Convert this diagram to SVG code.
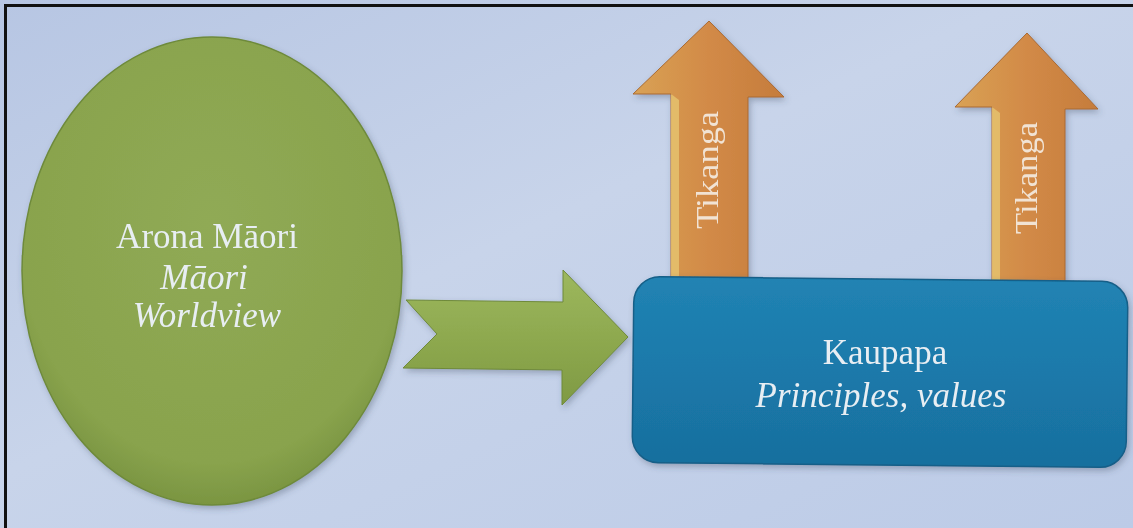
<svg xmlns="http://www.w3.org/2000/svg" width="1133" height="528" viewBox="0 0 1133 528">
  <defs>
    <linearGradient id="bg" x1="0" y1="0" x2="1" y2="1">
      <stop offset="0" stop-color="#b7c6e3"/>
      <stop offset="0.45" stop-color="#c8d4ea"/>
      <stop offset="1" stop-color="#bccbe7"/>
    </linearGradient>
    <radialGradient id="gEll" cx="0.5" cy="0.4" r="0.6">
      <stop offset="0" stop-color="#90aa55"/>
      <stop offset="0.85" stop-color="#89a34d"/>
      <stop offset="1" stop-color="#7a9541"/>
    </radialGradient>
    <linearGradient id="gArrow" x1="0" y1="0" x2="0" y2="1">
      <stop offset="0" stop-color="#9db85e"/>
      <stop offset="0.5" stop-color="#8ea94f"/>
      <stop offset="1" stop-color="#7f9a43"/>
    </linearGradient>
    <linearGradient id="oArrow" x1="0" y1="0" x2="1" y2="0">
      <stop offset="0" stop-color="#d9a255"/>
      <stop offset="0.5" stop-color="#d28a47"/>
      <stop offset="1" stop-color="#c57c3c"/>
    </linearGradient>
    <linearGradient id="bBox" x1="0" y1="0" x2="0" y2="1">
      <stop offset="0" stop-color="#2183b3"/>
      <stop offset="0.5" stop-color="#1b79aa"/>
      <stop offset="1" stop-color="#186f9e"/>
    </linearGradient>
    <filter id="sh" x="-10%" y="-10%" width="120%" height="120%">
      <feDropShadow dx="2" dy="3" stdDeviation="3" flood-color="#3a4a60" flood-opacity="0.35"/>
    </filter>
    <style>
      .lbl { font-family: "Liberation Serif", "Times New Roman", serif; fill: #e8eef3; font-size: 35px; text-anchor: middle; }
      .it { font-style: italic; }
      .tk { font-family: "Liberation Serif", "Times New Roman", serif; fill: #f1e3d4; font-size: 32px; text-anchor: middle; }
      .bevel { fill: #e6c470; opacity: 0.8; }
    </style>
  </defs>

  <rect x="0" y="0" width="1133" height="528" fill="url(#bg)"/>
  <path d="M5.5 528 V5.5 H1133" fill="none" stroke="#111" stroke-width="3"/>

  <g id="connectors">
    <g id="arrow-green" filter="url(#sh)">
      <polygon points="406,300 563,302 563,270 628,337 562,405 562,370 403,368 437,334" fill="url(#gArrow)" stroke="#6f8a3a" stroke-width="1"/>
    </g>
    <g id="arrow-tikanga-1" filter="url(#sh)">
      <polygon points="709,21 633,94 671,94 671,282 748,282 748,97 784,97" fill="url(#oArrow)" stroke="#a96a33" stroke-width="1"/>
      <polygon class="bevel" points="671,94 679,100 679,276 671,282"/>
      <text class="tk" transform="translate(718,170) rotate(-90)" textLength="118" lengthAdjust="spacingAndGlyphs">Tikanga</text>
    </g>
    <g id="arrow-tikanga-2" filter="url(#sh)">
      <polygon points="1027,33 955,107 992,107 992,286 1065,286 1065,109 1098,109" fill="url(#oArrow)" stroke="#a96a33" stroke-width="1"/>
      <polygon class="bevel" points="992,107 1000,113 1000,280 992,286"/>
      <text class="tk" transform="translate(1037,178) rotate(-90)" textLength="112" lengthAdjust="spacingAndGlyphs">Tikanga</text>
    </g>
  </g>

  <g id="node-arona" filter="url(#sh)">
    <ellipse cx="212" cy="271" rx="190" ry="234" fill="url(#gEll)" stroke="#6e8a3b" stroke-width="1.5"/>
    <text class="lbl" x="207" y="248">Arona Māori</text>
    <text class="lbl it" x="204" y="289">Māori</text>
    <text class="lbl it" x="207" y="327">Worldview</text>
  </g>

  <g id="node-kaupapa" filter="url(#sh)">
    <rect x="633" y="279" width="494" height="186" rx="26" fill="url(#bBox)" stroke="#145f88" stroke-width="1.5" transform="rotate(0.6 880 372)"/>
    <text class="lbl" x="885" y="364">Kaupapa</text>
    <text class="lbl it" x="881" y="407">Principles, values</text>
  </g>
</svg>
